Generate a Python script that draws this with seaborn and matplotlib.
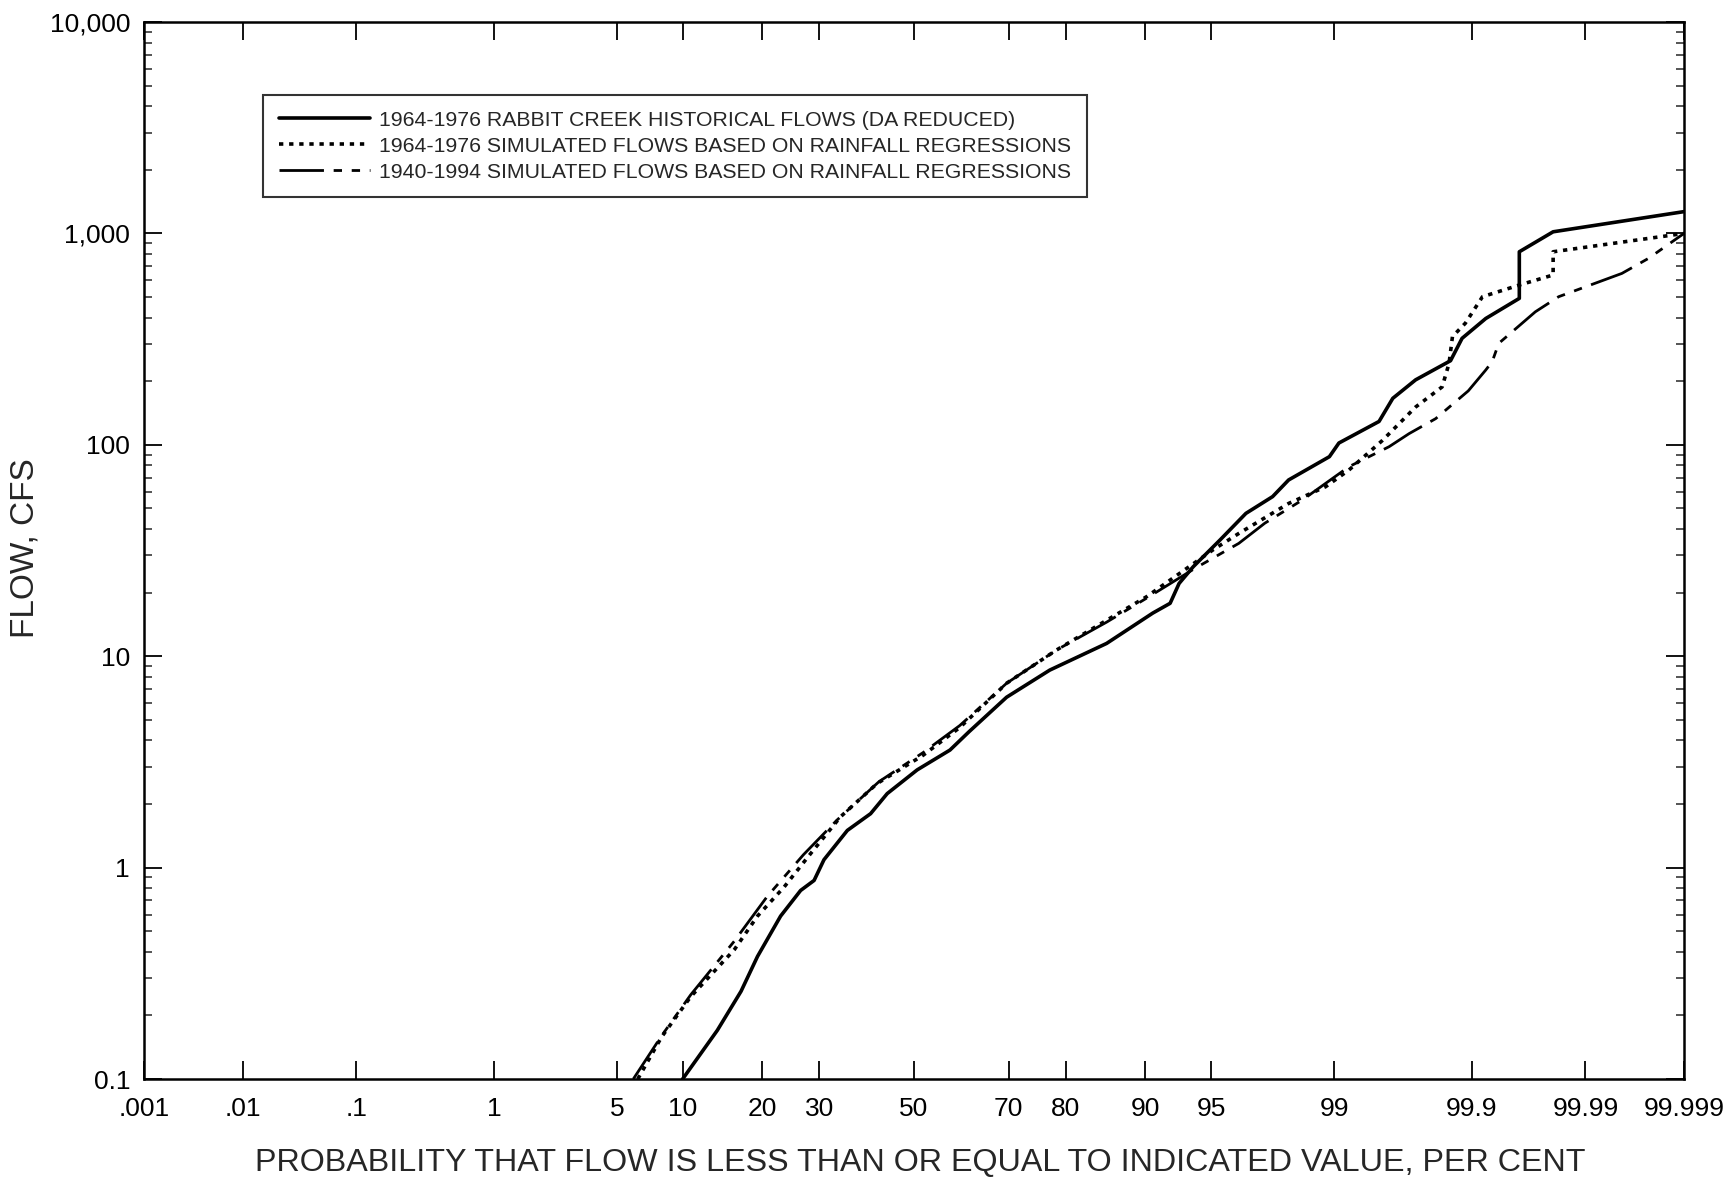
import matplotlib
matplotlib.use('Agg')
import matplotlib.pyplot as plt
import matplotlib.ticker as mticker
import seaborn as sns
import pandas as pd
import numpy as np
from statistics import NormalDist

# probability (per cent) vs flow (cfs)
hist_prob = [10.0, 13.8, 16.9, 19.3, 23.0, 26.5, 29.0, 30.9, 35.6, 40.5, 44.1, 50.7, 57.9, 62.0,
             69.6, 77.4, 85.7, 90.7, 92.2, 92.9, 93.9, 95.5, 96.7, 97.65, 98.1, 98.93, 99.07,
             99.5, 99.6, 99.727, 99.852, 99.88, 99.923, 99.96, 99.96, 99.980, 99.999]
hist_flow = [0.1, 0.17, 0.26, 0.38, 0.59, 0.78, 0.87, 1.09, 1.5, 1.8, 2.24, 2.9, 3.6, 4.4,
             6.4, 8.6, 11.5, 16, 17.8, 22.1, 26.5, 35.5, 47.4, 56.9, 68.2, 87.9, 102,
             129, 166, 203, 250, 319, 396, 493, 819, 1018, 1268]

sim_prob = [6.3, 8.1, 10.8, 16.0, 19.3, 23.6, 28.4, 34.2, 41.9, 52.0, 60.0, 69.6, 78.5, 85.7,
            90.1, 95.1, 96.4, 98.1, 98.87, 99.2, 99.527, 99.727, 99.828, 99.848, 99.857,
            99.887, 99.918, 99.96, 99.980, 99.980, 99.999]
sim_flow = [0.1, 0.158, 0.245, 0.41, 0.59, 0.81, 1.17, 1.74, 2.5, 3.4, 4.6, 7.45, 10.7, 14.8,
            19.1, 31.8, 38.1, 52.8, 63.4, 76, 105, 151, 188, 243, 325,
            376, 502, 570, 636, 819, 1000]

long_prob = [6.0, 8.1, 10.8, 16.0, 20.8, 27.0, 33.5, 42.3, 52.0, 60.0, 69.6, 78.5, 85.7, 90.1,
             94.0, 96.4, 97.4, 98.43, 99.2, 99.575, 99.695, 99.807, 99.893, 99.923, 99.932,
             99.940, 99.9711, 99.9822, 99.99559, 99.99763, 99.999]
long_flow = [0.1, 0.16, 0.25, 0.45, 0.73, 1.15, 1.68, 2.55, 3.5, 4.7, 7.45, 10.7, 14.5, 18.8,
             26, 34.2, 42.6, 54.9, 78.8, 98, 113, 133, 180, 226, 248,
             302, 426, 502, 647, 762, 1000]

labels = ['1964-1976 RABBIT CREEK HISTORICAL FLOWS (DA REDUCED)',
          '1964-1976 SIMULATED FLOWS BASED ON RAINFALL REGRESSIONS',
          '1940-1994 SIMULATED FLOWS BASED ON RAINFALL REGRESSIONS']

x_ticks = [0.001, 0.01, 0.1, 1, 5, 10, 20, 30, 50, 70, 80, 90, 95, 99, 99.9, 99.99, 99.999]
x_ticklabels = ['.001', '.01', '.1', '1', '5', '10', '20', '30', '50', '70', '80', '90', '95',
                '99', '99.9', '99.99', '99.999']
y_ticks = [0.1, 1, 10, 100, 1000, 10000]
y_ticklabels = ['0.1', '1', '10', '100', '1,000', '10,000']

df = pd.concat([
    pd.DataFrame({'prob': hist_prob, 'flow': hist_flow, 'series': labels[0]}),
    pd.DataFrame({'prob': sim_prob, 'flow': sim_flow, 'series': labels[1]}),
    pd.DataFrame({'prob': long_prob, 'flow': long_flow, 'series': labels[2]}),
])

nd = NormalDist()
_ppf = np.vectorize(nd.inv_cdf, otypes=[float])
_cdf = np.vectorize(nd.cdf, otypes=[float])


def fwd(p):
    p = np.clip(np.asarray(p, dtype=float) / 100.0, 1e-7, 1 - 1e-7)
    return _ppf(p)


def inv(z):
    return _cdf(np.asarray(z, dtype=float)) * 100.0


sns.set_style('ticks')
plt.rcParams['font.family'] = ['Liberation Sans', 'DejaVu Sans']

fig = plt.figure(figsize=(17.35, 11.78), dpi=100)
ax = fig.add_axes([0.0830, 0.0840, 0.8876, 0.8973])
ax.set_xscale('function', functions=(fwd, inv))
ax.set_yscale('log')

styles = {
    labels[0]: dict(lw=2.6, ls='-'),
    labels[1]: dict(lw=2.6, ls=(0, (1.2, 1.6))),
    labels[2]: dict(lw=2.0, ls=(0, (16, 3.5, 3, 3.5, 3, 3.5))),
}
for name in labels:
    sub = df[df['series'] == name]
    sns.lineplot(data=sub, x='prob', y='flow', estimator=None, sort=False, color='black',
                 label=name, ax=ax, **styles[name])

ax.set_xlim(0.001, 99.999)
ax.set_ylim(0.1, 10000)

ax.xaxis.set_major_locator(mticker.FixedLocator(x_ticks))
ax.xaxis.set_major_formatter(mticker.FixedFormatter(x_ticklabels))
ax.xaxis.set_minor_locator(mticker.NullLocator())
ax.yaxis.set_major_locator(mticker.FixedLocator(y_ticks))
ax.yaxis.set_major_formatter(mticker.FixedFormatter(y_ticklabels))
ax.yaxis.set_minor_locator(mticker.LogLocator(base=10, subs=np.arange(2, 10)))
ax.yaxis.set_minor_formatter(mticker.NullFormatter())

ax.tick_params(which='major', direction='in', length=13, width=1.3, top=True, right=True,
               labelsize=19, pad=10, colors='black')
ax.tick_params(axis='x', which='major', pad=13)
ax.tick_params(which='minor', direction='in', length=6, width=1.1, top=False, right=True)
for sp in ax.spines.values():
    sp.set_linewidth(1.8)
    sp.set_color('black')

ax.set_xlabel('PROBABILITY THAT FLOW IS LESS THAN OR EQUAL TO INDICATED VALUE, PER CENT',
              fontsize=23.2)
ax.set_ylabel('FLOW, CFS', fontsize=24)
ax.xaxis.set_label_coords(0.504, -0.065)
ax.yaxis.set_label_coords(-0.067, 0.502)

leg = ax.legend(loc='upper left', bbox_to_anchor=(0.0773, 0.931), borderaxespad=0,
                fontsize=15.3, handlelength=4.3, handletextpad=0.42, labelspacing=0.32,
                fancybox=False, frameon=True, borderpad=0.75)
leg.get_frame().set_edgecolor('black')
leg.get_frame().set_linewidth(1.5)

fig.savefig('out.png', dpi=100)
